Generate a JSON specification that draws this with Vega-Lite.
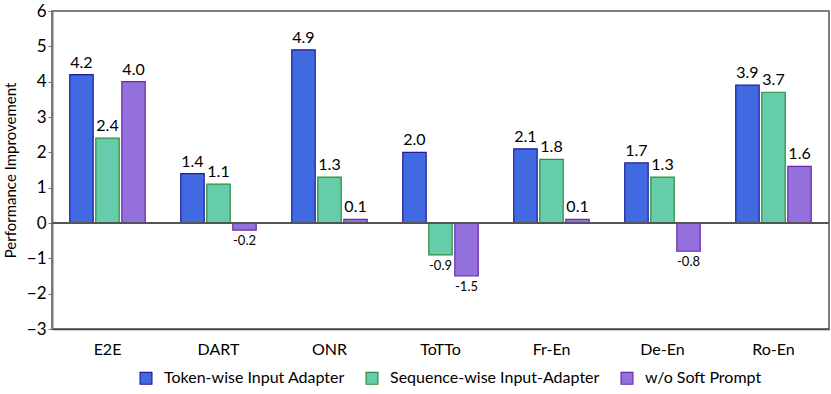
{
  "$schema": "https://vega.github.io/schema/vega-lite/v6.json",
  "autosize": "none",
  "width": 777,
  "height": 318,
  "padding": {"left": 52, "top": 11, "right": 2, "bottom": 65},
  "config": {
    "font": "Lato",
    "view": {"stroke": "#555", "strokeWidth": 1.5},
    "axis": {"labelFont": "Lato", "titleFont": "Lato", "grid": false}
  },
  "data": {
    "values": [
      {"task": "E2E", "series": "Token-wise Input Adapter", "value": 4.2},
      {"task": "E2E", "series": "Sequence-wise Input-Adapter", "value": 2.4},
      {"task": "E2E", "series": "w/o Soft Prompt", "value": 4.0},
      {"task": "DART", "series": "Token-wise Input Adapter", "value": 1.4},
      {"task": "DART", "series": "Sequence-wise Input-Adapter", "value": 1.1},
      {"task": "DART", "series": "w/o Soft Prompt", "value": -0.2},
      {"task": "ONR", "series": "Token-wise Input Adapter", "value": 4.9},
      {"task": "ONR", "series": "Sequence-wise Input-Adapter", "value": 1.3},
      {"task": "ONR", "series": "w/o Soft Prompt", "value": 0.1},
      {"task": "ToTTo", "series": "Token-wise Input Adapter", "value": 2.0},
      {"task": "ToTTo", "series": "Sequence-wise Input-Adapter", "value": -0.9},
      {"task": "ToTTo", "series": "w/o Soft Prompt", "value": -1.5},
      {"task": "Fr-En", "series": "Token-wise Input Adapter", "value": 2.1},
      {"task": "Fr-En", "series": "Sequence-wise Input-Adapter", "value": 1.8},
      {"task": "Fr-En", "series": "w/o Soft Prompt", "value": 0.1},
      {"task": "De-En", "series": "Token-wise Input Adapter", "value": 1.7},
      {"task": "De-En", "series": "Sequence-wise Input-Adapter", "value": 1.3},
      {"task": "De-En", "series": "w/o Soft Prompt", "value": -0.8},
      {"task": "Ro-En", "series": "Token-wise Input Adapter", "value": 3.9},
      {"task": "Ro-En", "series": "Sequence-wise Input-Adapter", "value": 3.7},
      {"task": "Ro-En", "series": "w/o Soft Prompt", "value": 1.6}
    ]
  },
  "transform": [
    {"calculate": "replace(format(datum.value, '.1f'), '\u2212', '-')", "as": "label"}
  ],
  "encoding": {
    "x": {
      "field": "task", "type": "nominal", "sort": null,
      "scale": {"paddingInner": 0.32, "paddingOuter": 0.16},
      "axis": {"title": null, "labelAngle": 0, "labelFontSize": 16, "labelColor": "#000", "ticks": false, "labelPadding": 12, "domainColor": "#444", "domainWidth": 1.5}
    },
    "xOffset": {
      "field": "series", "type": "nominal", "sort": null,
      "scale": {"paddingInner": 0.1}
    },
    "y": {
      "field": "value", "type": "quantitative",
      "scale": {"domain": [-3, 6], "nice": false},
      "axis": {"title": "Performance Improvement", "titleFontSize": 15, "titleFontWeight": "normal", "titleColor": "#000", "titlePadding": 8, "values": [-3,-2,-1,0,1,2,3,4,5,6], "format": "d", "labelFontSize": 17, "labelColor": "#000", "tickSize": 4, "tickColor": "#777", "domainColor": "#777", "domainWidth": 2}
    }
  },
  "layer": [
    {
      "mark": {"type": "bar", "strokeWidth": 1.2},
      "encoding": {
        "color": {
          "field": "series", "type": "nominal", "sort": null,
          "scale": {"domain": ["Token-wise Input Adapter", "Sequence-wise Input-Adapter", "w/o Soft Prompt"], "range": ["#4169E1", "#66CDAA", "#9370DB"]},
          "legend": {"title": null, "orient": "none", "direction": "horizontal", "legendX": 86, "legendY": 359, "labelFontSize": 16, "labelLimit": 0, "labelColor": "#000", "symbolType": "square", "symbolSize": 140, "columnPadding": 18, "labelOffset": 10, "symbolStrokeWidth": 1.2}
        },
        "stroke": {
          "field": "series", "type": "nominal", "sort": null,
          "scale": {"domain": ["Token-wise Input Adapter", "Sequence-wise Input-Adapter", "w/o Soft Prompt"], "range": ["#1c1c9c", "#2e8b3e", "#6a2aa8"]},
          "legend": null
        }
      }
    },
    {
      "mark": {"type": "rule", "color": "#555", "strokeWidth": 1.5},
      "encoding": {"y": {"datum": 0}, "x": null, "xOffset": null}
    },
    {
      "transform": [{"filter": "datum.value >= 0"}],
      "mark": {"type": "text", "baseline": "bottom", "dy": -4, "fontSize": 16, "color": "#000"},
      "encoding": {"text": {"field": "label"}}
    },
    {
      "transform": [{"filter": "datum.value < 0"}],
      "mark": {"type": "text", "baseline": "top", "dy": 5, "fontSize": 13, "color": "#000"},
      "encoding": {"text": {"field": "label"}}
    }
  ]
}
